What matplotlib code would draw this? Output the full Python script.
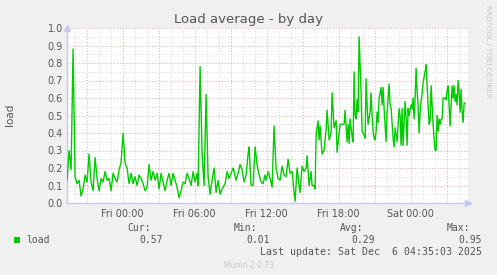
import numpy as np
import matplotlib
matplotlib.use("Agg")
import matplotlib.pyplot as plt

# 5-minute rrd slots counted from the first sample (Thu 19:22), and the load value in each
steps = [0, 2, 4, 6, 8, 10, 12, 14, 16, 18,
         20, 22, 24, 26, 28, 30, 32, 34, 36, 38,
         40, 42, 44, 46, 48, 50, 52, 54, 56, 58,
         60, 62, 64, 66, 68, 70, 72, 74, 76, 78,
         80, 82, 84, 86, 88, 90, 92, 94, 96, 98,
         100, 102, 104, 106, 108, 110, 112, 114, 116, 118,
         120, 122, 124, 126, 128, 130, 131, 133, 135, 137,
         139, 141, 143, 145, 147, 149, 151, 153, 155, 158,
         160, 162, 164, 166, 167, 169, 171, 173, 175, 177,
         179, 181, 182, 184, 186, 188, 190, 192, 194, 196,
         198, 199, 201, 203, 205, 207, 209, 211, 213, 215,
         217, 219, 221, 223, 225, 227, 228, 230, 232, 233,
         235, 237, 239, 240, 242, 244, 245, 247, 248, 249,
         251, 252, 253, 255, 257, 259, 260, 262, 264, 265,
         267, 269, 270, 272, 273, 275, 277, 278, 280, 281,
         282, 283, 285, 286, 287, 288, 289, 290, 291, 292,
         294, 295, 297, 298, 299, 300, 301, 303, 304, 305,
         306, 307, 308, 309, 310, 311, 312, 314, 315, 316,
         317, 318, 319, 320, 322, 323, 324, 325, 326, 327,
         328, 329, 330, 332, 333, 334, 335, 336, 337, 338,
         339, 340, 341, 342, 344, 345, 346, 347, 348, 349,
         350, 351, 352, 353, 354, 355, 356, 358, 359, 360,
         361, 362, 363, 364, 365, 366, 367, 368, 369, 370,
         371, 372, 373, 374, 375, 376, 378, 379, 380, 381,
         382, 383, 384, 385, 386, 387, 388, 389, 390, 391,
         392, 393, 394, 395, 396, 397, 398]
load = [0.13, 0.30, 0.19, 0.88, 0.15, 0.11, 0.13, 0.04, 0.08, 0.16,
        0.12, 0.28, 0.12, 0.07, 0.26, 0.14, 0.07, 0.14, 0.12, 0.18,
        0.13, 0.14, 0.07, 0.17, 0.14, 0.12, 0.19, 0.23, 0.40, 0.23,
        0.20, 0.11, 0.17, 0.11, 0.15, 0.10, 0.16, 0.14, 0.11, 0.07,
        0.09, 0.22, 0.13, 0.18, 0.13, 0.17, 0.08, 0.17, 0.12, 0.07,
        0.13, 0.17, 0.10, 0.17, 0.13, 0.09, 0.03, 0.07, 0.12, 0.11,
        0.17, 0.14, 0.10, 0.18, 0.12, 0.17, 0.10, 0.78, 0.28, 0.10,
        0.62, 0.15, 0.05, 0.13, 0.20, 0.06, 0.13, 0.05, 0.08, 0.11,
        0.18, 0.14, 0.17, 0.20, 0.18, 0.13, 0.17, 0.22, 0.19, 0.12,
        0.16, 0.28, 0.32, 0.10, 0.10, 0.32, 0.22, 0.16, 0.12, 0.11,
        0.16, 0.13, 0.18, 0.14, 0.09, 0.44, 0.20, 0.14, 0.13, 0.21,
        0.16, 0.15, 0.25, 0.17, 0.18, 0.06, 0.01, 0.20, 0.10, 0.06,
        0.21, 0.18, 0.20, 0.27, 0.10, 0.18, 0.10, 0.10, 0.08, 0.39,
        0.47, 0.36, 0.44, 0.28, 0.30, 0.42, 0.53, 0.36, 0.40, 0.63,
        0.43, 0.47, 0.29, 0.40, 0.45, 0.45, 0.45, 0.53, 0.35, 0.45,
        0.34, 0.48, 0.38, 0.35, 0.75, 0.50, 0.48, 0.59, 0.52, 0.95,
        0.63, 0.41, 0.39, 0.37, 0.71, 0.56, 0.45, 0.52, 0.63, 0.50,
        0.41, 0.37, 0.36, 0.41, 0.52, 0.46, 0.60, 0.66, 0.56, 0.66,
        0.54, 0.45, 0.35, 0.52, 0.68, 0.56, 0.54, 0.45, 0.37, 0.32,
        0.43, 0.39, 0.35, 0.54, 0.50, 0.33, 0.54, 0.33, 0.45, 0.58,
        0.49, 0.33, 0.54, 0.50, 0.56, 0.54, 0.60, 0.48, 0.60, 0.77,
        0.64, 0.56, 0.40, 0.52, 0.58, 0.62, 0.69, 0.75, 0.79, 0.67,
        0.56, 0.45, 0.47, 0.67, 0.56, 0.45, 0.37, 0.30, 0.30, 0.50,
        0.41, 0.48, 0.45, 0.48, 0.48, 0.60, 0.60, 0.59, 0.64, 0.67,
        0.56, 0.44, 0.56, 0.67, 0.60, 0.67, 0.58, 0.62, 0.56, 0.70,
        0.64, 0.52, 0.65, 0.52, 0.46, 0.57, 0.57]

first_sample_h = -(4 + 38 / 60)      # hours relative to Fri 00:00
x_range = (-4.64, 28.775)
tick_hours = [0, 6, 12, 18, 24]
tick_labels = ["Fri 00:00", "Fri 06:00", "Fri 12:00", "Fri 18:00", "Sat 00:00"]
y_ticks = [0.0, 0.1, 0.2, 0.3, 0.4, 0.5, 0.6, 0.7, 0.8, 0.9, 1.0]

stats_names = ["Cur:", "Min:", "Avg:", "Max:"]
stats_vals = ["0.57", "0.01", "0.29", "0.95"]

W, H = 497, 275
BG = "#f0f0f0"
TXT = "#555555"

hours = first_sample_h + np.array(steps) * 5 / 60

fig = plt.figure(figsize=(W / 100, H / 100), dpi=100, facecolor=BG)
ax = fig.add_axes([67 / W, 1 - 203 / H, 401 / W, 175 / H])
ax.set_facecolor("white")

ax.set_xlim(*x_range)
ax.set_ylim(0, 1.0)

# grid: grey dotted minor, red dotted major (like rrdtool)
for h in np.arange(-4, 29, 1):
    if h % 3 != 0:
        ax.axvline(h, color="#d4d4d4", lw=0.7, ls=(0, (1, 2)), zorder=1)
for v in np.arange(0.05, 1.0, 0.1):
    ax.axhline(v, color="#d4d4d4", lw=0.7, ls=(0, (1, 2)), zorder=1)
for h in np.arange(-3, 29, 3):
    ax.axvline(h, color="#eaa3a3", lw=0.7, ls=(0, (1, 2)), zorder=2)
for v in y_ticks[1:]:
    ax.axhline(v, color="#eaa3a3", lw=0.7, ls=(0, (1, 2)), zorder=2)

ax.plot(hours, load, color="#00cc00", lw=1.0, zorder=3)

ax.set_xticks(tick_hours)
ax.set_xticklabels(tick_labels)
ax.set_yticks(y_ticks)
ax.set_yticklabels(["%.1f" % v for v in y_ticks])
ax.tick_params(length=0, labelsize=7, colors=TXT, pad=4)
ax.tick_params(axis="y", pad=3)

for s in ["top", "right"]:
    ax.spines[s].set_visible(False)
for s in ["left", "bottom"]:
    ax.spines[s].set_color("#c8c8f4")
    ax.spines[s].set_linewidth(1.0)
ax.plot([0], [1.0], marker="^", ms=4, color="#c8c8f4", transform=ax.transAxes, clip_on=False)
ax.plot([1.0], [0], marker=">", ms=4, color="#c8c8f4", transform=ax.transAxes, clip_on=False)

def px(x, y):
    return x / W, 1 - y / H

fig.text(*px(248.5, 19), "Load average - by day", ha="center", va="center",
         fontsize=9.5, color=TXT)
fig.text(*px(10, 115), "load", rotation=90, ha="center", va="center",
         fontsize=7.5, color=TXT)
fig.text(*px(488, 5), "RRDTOOL / TOBI OETIKER", rotation=270, ha="center", va="top",
         fontsize=5.2, color="#c8c8c8")

mono = "DejaVu Sans Mono"
fig.patches.append(plt.Rectangle(px(14, 242.5), 5.5 / W, 5.5 / H, transform=fig.transFigure,
                                 facecolor="#00cc00", edgecolor="none"))
fig.text(*px(26, 240), "load", ha="left", va="center", family=mono, fontsize=7, color=TXT)
name_right = [151, 257, 363, 470]
val_right = [163, 270, 375, 482]
for nm, vl, nx, vx in zip(stats_names, stats_vals, name_right, val_right):
    fig.text(*px(nx, 228), nm, ha="right", va="center", family=mono, fontsize=7, color=TXT)
    fig.text(*px(vx, 240), vl, ha="right", va="center", family=mono, fontsize=7, color=TXT)
fig.text(*px(482, 252), "Last update: Sat Dec  6 04:35:03 2025", ha="right", va="center",
         family=mono, fontsize=7.1, color=TXT)
fig.text(*px(248.5, 265), "Munin 2.0.73", ha="center", va="center", fontsize=5.5, color="#c8c8c8")

fig.savefig("out.png", dpi=100, facecolor=BG)
